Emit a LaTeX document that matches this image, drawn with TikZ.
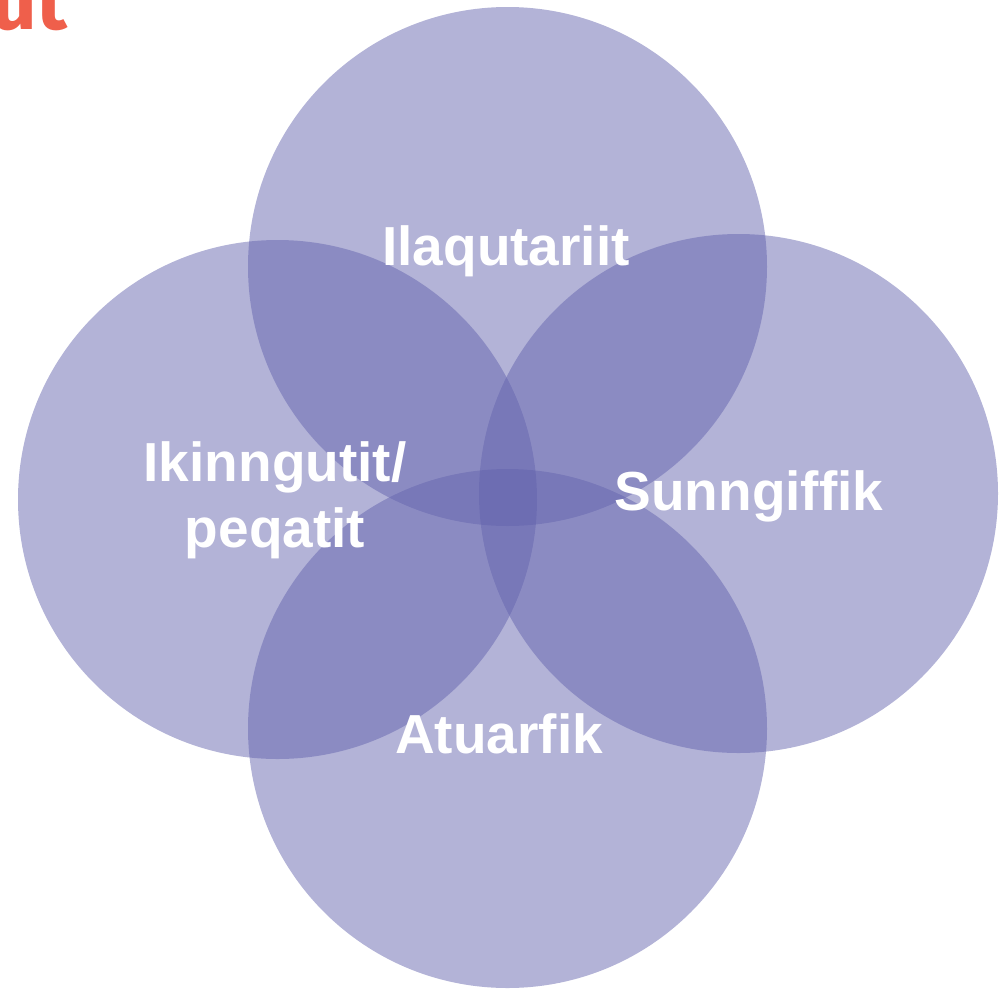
\documentclass[tikz,border=0pt]{standalone}
\usepackage{fontspec}
\setmainfont{Liberation Sans}
\newfontfamily\headfont{Fira Sans}
\definecolor{venn}{HTML}{6363AD}
\definecolor{headred}{HTML}{EF5F4B}
\begin{document}
\begin{tikzpicture}[x=1pt,y=-1pt,
  circ/.style={circle,fill=venn,fill opacity=0.49,draw=none,inner sep=0pt,minimum size=519pt},
  lbl/.style={text=white,font=\fontsize{55}{63}\selectfont\bfseries,align=center,inner sep=0pt}]
\useasboundingbox (0,0) rectangle (1005,989);
\node[circ] (ctop) at (507.5,266.5) {};
\node[circ] (cleft) at (277.5,499.5) {};
\node[circ] (cright) at (738.5,493.5) {};
\node[circ] (cbot) at (507.5,728.5) {};
\node[lbl,anchor=base] (ltop) at (506,265) {Ilaqutariit};
\node[lbl,anchor=base] (lleft) at (275,547) {Ikinngutit/\\[3pt]peqatit};
\node[lbl,anchor=base] (lright) at (749,510) {Sunngiffik};
\node[lbl,anchor=base] (lbot) at (499,753) {Atuarfik};
\node[text=headred,font=\headfont\fontsize{80}{80}\selectfont\bfseries,anchor=base east,inner sep=0pt] (head) at (68,29) {ut};
\end{tikzpicture}
\end{document}
